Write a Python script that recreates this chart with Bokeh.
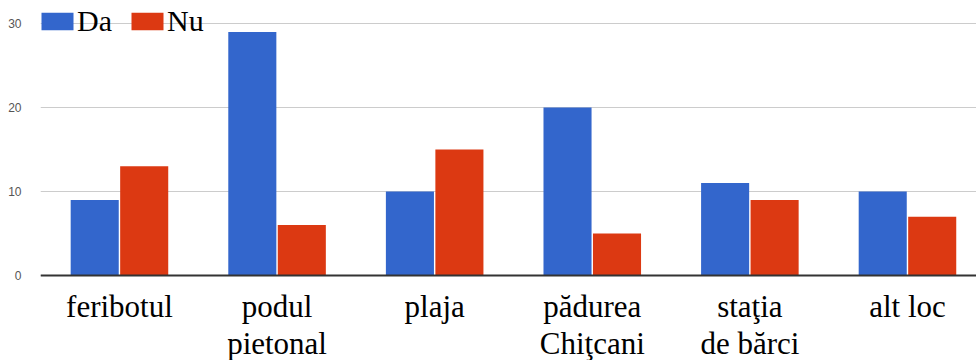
from bokeh.plotting import figure
from bokeh.models import (ColumnDataSource, FixedTicker, Range1d,
                          Legend, LegendItem)
from bokeh.transform import dodge
from bokeh.embed import file_html
from bokeh.resources import INLINE

# ---- data ----
categories = ["feribotul", "podul\npietonal", "plaja", "pădurea\nChiţcani",
              "staţia\nde bărci", "alt loc"]
da = [9, 29, 10, 20, 11, 10]
nu = [13, 6, 15, 5, 9, 7]
series_names = ["Da", "Nu"]
y_ticks = [0, 10, 20, 30]

idx = list(range(len(categories)))

src = ColumnDataSource(dict(x=idx, da=da, nu=nu))

# the frame reaches the bottom edge; the category labels sit inside it, under y = 0
p = figure(width=976, height=360,
           x_range=Range1d(-0.501, 5.438), y_range=Range1d(-10.12, 32.74),
           output_backend="svg", toolbar_location=None,
           min_border_left=40, min_border_right=0, min_border_top=0,
           min_border_bottom=0)
p.outline_line_color = None
p.background_fill_color = "white"

blue = "#3366CC"
red = "#DC3912"

r1 = p.vbar(x=dodge("x", -0.157, range=p.x_range), top="da", bottom=0,
            width=0.305, source=src, fill_color=blue, line_color=None)
r2 = p.vbar(x=dodge("x", 0.157, range=p.x_range), top="nu", bottom=0,
            width=0.305, source=src, fill_color=red, line_color=None)

# y axis
p.xgrid.visible = False
p.ygrid.ticker = FixedTicker(ticks=y_ticks)
p.ygrid.grid_line_color = "#cccccc"
p.ygrid.grid_line_width = 1
p.yaxis.ticker = FixedTicker(ticks=y_ticks)
p.yaxis.axis_line_color = None
p.yaxis.major_tick_line_color = None
p.yaxis.minor_tick_line_color = None
p.yaxis.major_label_standoff = 13
p.yaxis.major_label_text_font = "Liberation Sans"
p.yaxis.major_label_text_font_size = "12px"
p.yaxis.major_label_text_color = "#555555"

# x axis with category labels, pinned at y = 0
xa = p.xaxis[0]
xa.fixed_location = 0
xa.ticker = FixedTicker(ticks=idx)
xa.major_label_overrides = {i: c for i, c in zip(idx, categories)}
xa.major_label_text_font = "Liberation Serif"
xa.major_label_text_font_size = "31px"
xa.major_label_text_color = "black"
xa.major_label_text_line_height = 1.05
xa.major_label_standoff = 8
xa.major_tick_line_color = None
xa.minor_tick_line_color = None
xa.axis_line_color = "#333333"
xa.axis_line_width = 2

legend = Legend(items=[LegendItem(label=series_names[0], renderers=[r1]),
                       LegendItem(label=series_names[1], renderers=[r2])],
                location=(-3, 322), orientation="horizontal")
legend.label_text_font = "Liberation Serif"
legend.label_text_font_size = "30px"
legend.label_text_color = "black"
legend.glyph_width = 40
legend.glyph_height = 22
legend.label_standoff = 0
legend.spacing = 15
legend.padding = 0
legend.margin = 0
legend.background_fill_alpha = 0
legend.border_line_alpha = 0
p.add_layout(legend)

open("out.html", "w").write(file_html(p, INLINE))
